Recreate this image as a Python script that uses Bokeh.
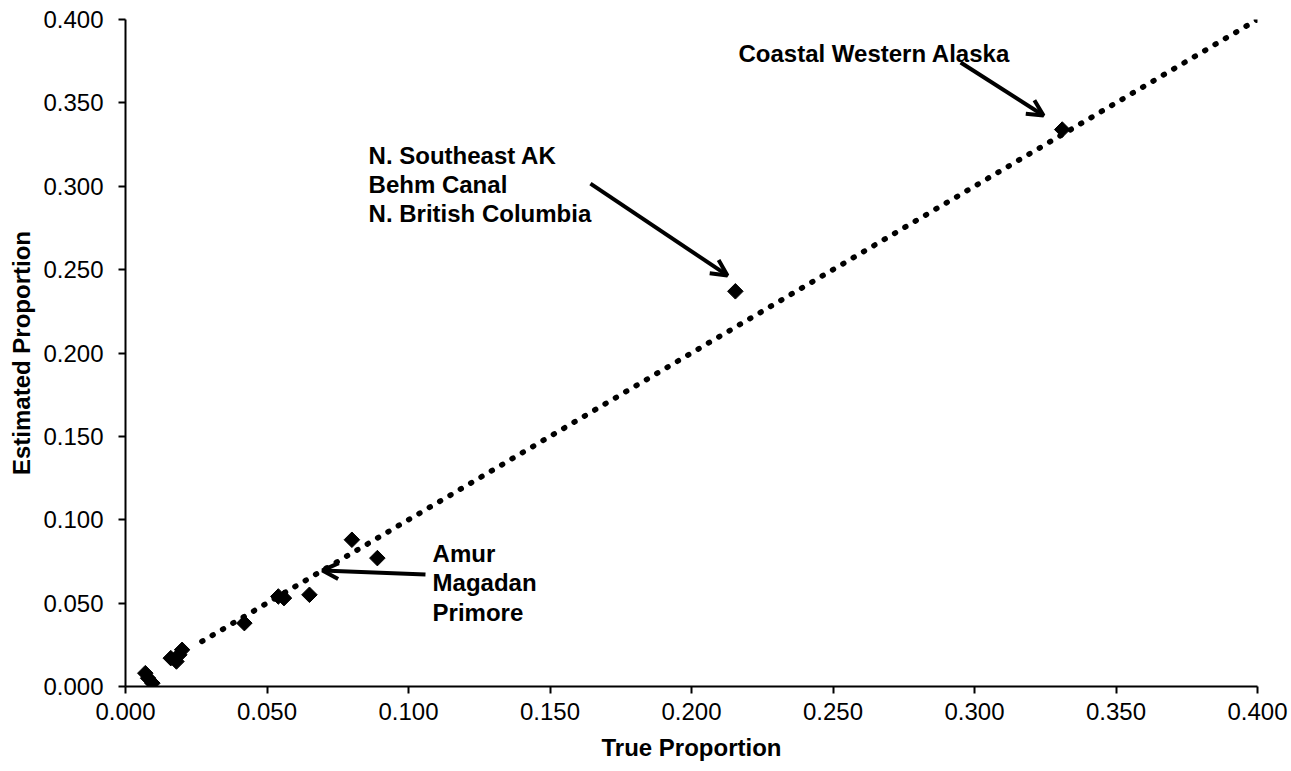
from bokeh.plotting import figure
from bokeh.models import (Range1d, FixedTicker, NumeralTickFormatter, Arrow,
                          OpenHead, ColumnDataSource)
from bokeh.core.properties import value
from bokeh.embed import file_html
from bokeh.resources import INLINE

# Mixture-estimate validation: true vs. estimated stock proportions
true_prop = [0.007, 0.008, 0.0095, 0.016, 0.018, 0.019, 0.020, 0.042,
             0.054, 0.056, 0.065, 0.080, 0.089, 0.2155, 0.331]
est_prop = [0.008, 0.005, 0.002, 0.017, 0.015, 0.019, 0.022, 0.038,
            0.054, 0.053, 0.055, 0.088, 0.077, 0.237, 0.334]

# 1:1 reference line
line_x = [0.027, 0.400]
line_y = [0.027, 0.400]

ticks = [0.0, 0.05, 0.10, 0.15, 0.20, 0.25, 0.30, 0.35, 0.40]

# Callout text, one entry per line (x, baseline y)
label_text = ["Coastal Western Alaska",
              "N. Southeast AK", "Behm Canal", "N. British Columbia",
              "Amur", "Magadan", "Primore"]
label_x = [0.2166, 0.0859, 0.0859, 0.0859, 0.1085, 0.1085, 0.1085]
label_y = [0.3796, 0.3184, 0.3010, 0.2837, 0.0798, 0.0624, 0.0444]

# Callout arrows: tail -> head
arrow_x0 = [0.2951, 0.1643, 0.1060]
arrow_y0 = [0.3742, 0.3016, 0.0672]
arrow_x1 = [0.3244, 0.2127, 0.0696]
arrow_y1 = [0.3424, 0.2465, 0.0696]

FONT = "Liberation Sans"

p = figure(width=1291, height=771, output_backend="svg", toolbar_location=None,
           x_range=Range1d(0, 0.4), y_range=Range1d(0, 0.4),
           min_border_left=125, min_border_right=34,
           min_border_top=19, min_border_bottom=85,
           background_fill_color="white", border_fill_color="white")
p.outline_line_color = None
p.grid.visible = False

for ax in (p.xaxis[0], p.yaxis[0]):
    ax.ticker = FixedTicker(ticks=ticks)
    ax.formatter = NumeralTickFormatter(format="0.000")
    ax.axis_line_color = "black"
    ax.axis_line_width = 2
    ax.major_tick_line_color = "black"
    ax.major_tick_line_width = 2
    ax.major_tick_in = 0
    ax.major_tick_out = 7
    ax.minor_tick_line_color = None
    ax.major_label_text_font = FONT
    ax.major_label_text_font_size = "24px"
    ax.major_label_text_color = "black"
    ax.axis_label_text_font = FONT
    ax.axis_label_text_font_size = "24px"
    ax.axis_label_text_font_style = "bold"
    ax.axis_label_text_color = "black"

p.xaxis.axis_label = "True Proportion"
p.yaxis.axis_label = "Estimated Proportion"
p.xaxis.major_label_standoff = 9
p.xaxis.axis_label_standoff = 11
p.yaxis.major_label_standoff = 15
p.yaxis.axis_label_standoff = 5

# dotted 1:1 line
p.line(line_x, line_y, line_color="black", line_width=5.5,
       line_dash="1 11", line_cap="round")

# data points as diamonds
p.scatter(true_prop, est_prop, marker="square", angle=0.785398, size=11,
          fill_color="black", line_color="black", line_width=1)

# callout arrows
for x0, y0, x1, y1 in zip(arrow_x0, arrow_y0, arrow_x1, arrow_y1):
    p.add_layout(Arrow(x_start=x0, y_start=y0, x_end=x1, y_end=y1,
                       line_color="black", line_width=4,
                       end=OpenHead(size=16, line_width=4, line_color="black")))

src = ColumnDataSource(dict(x=label_x, y=label_y, t=label_text))
p.text(x="x", y="y", text="t", source=src, text_font=value(FONT),
       text_font_size="24px", text_font_style="bold", text_color="black",
       text_align="left", text_baseline="alphabetic")

open("out.html", "w").write(file_html(p, INLINE))
